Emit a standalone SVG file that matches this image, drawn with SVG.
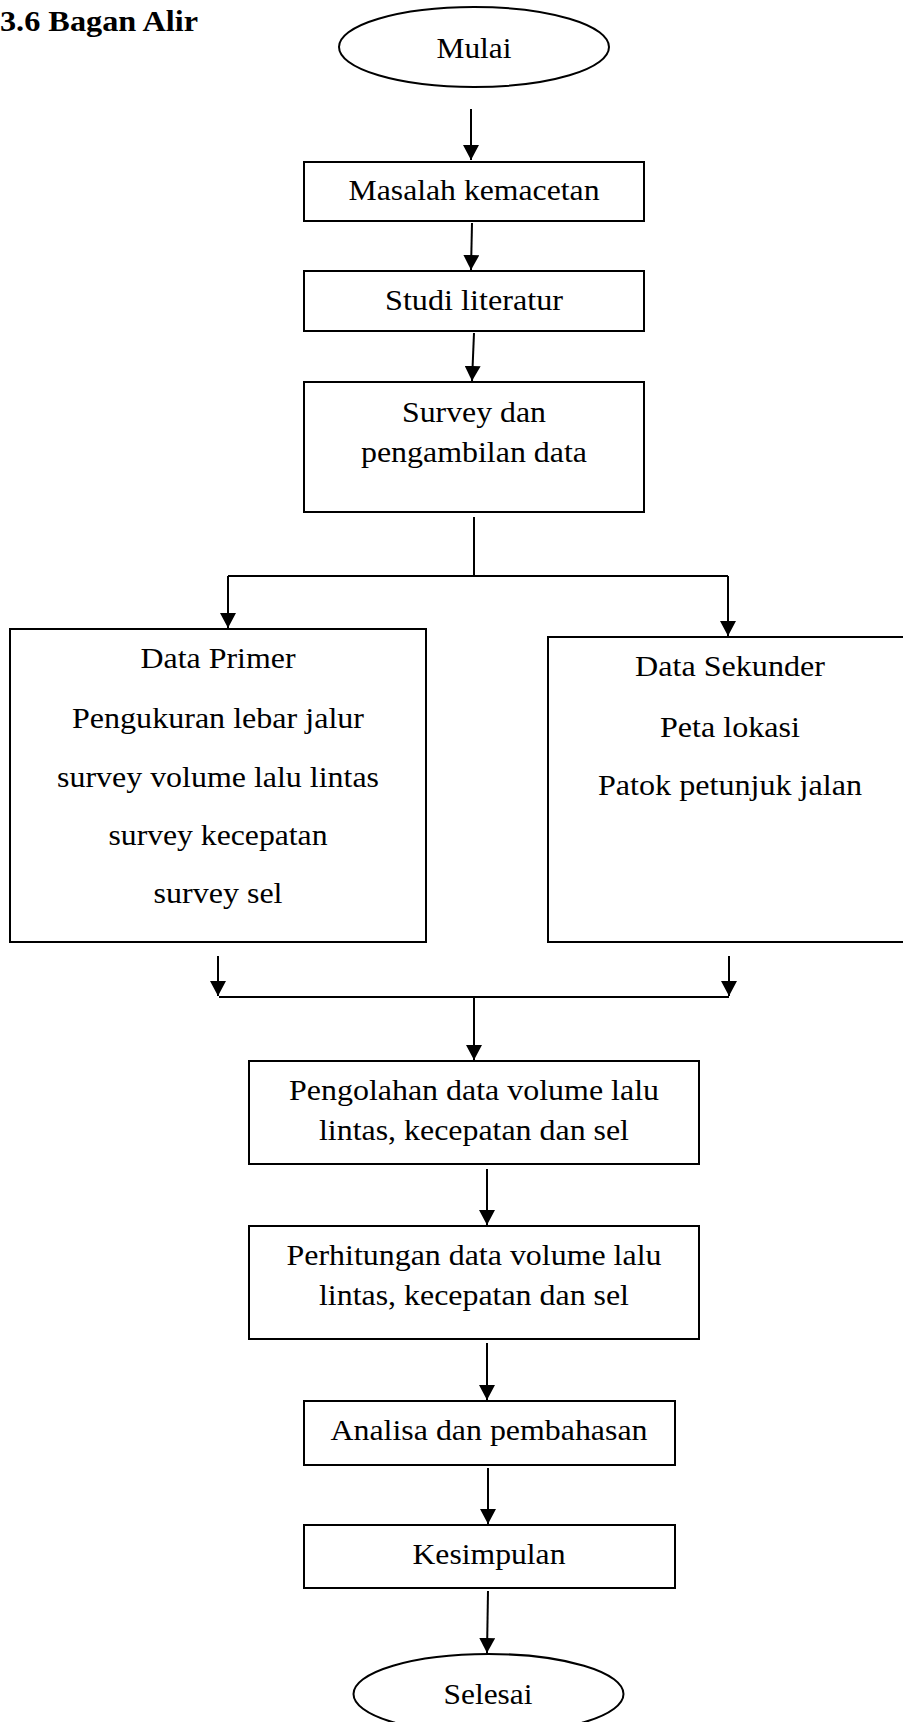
<svg xmlns="http://www.w3.org/2000/svg" width="903" height="1722" viewBox="0 0 903 1722">
<style>
.box{fill:#fff;stroke:#000;stroke-width:2}
.t{font-size:29px;fill:#000;text-anchor:middle}
.title{font-size:29px;font-weight:bold;fill:#000}
.ln{stroke:#000;stroke-width:2;fill:none}
.ar{stroke:#000;stroke-width:2;fill:none;marker-end:url(#ah)}
</style>
<defs>
<marker id="ah" markerUnits="userSpaceOnUse" markerWidth="16" markerHeight="16" viewBox="0 0 16 16" refX="15" refY="8" orient="auto">
<path d="M0,0 L15,8 L0,16 Z" fill="#000"/>
</marker>
</defs>
<rect width="903" height="1722" fill="#fff"/>
<g font-family="Liberation Serif, serif">
<text class="title" x="0" y="31" textLength="198" lengthAdjust="spacingAndGlyphs">3.6 Bagan Alir</text>

<g id="connectors">
<path class="ar" d="M471,109 L471,160"/>
<path class="ar" d="M472,223 L471,270"/>
<path class="ar" d="M474,333 L472,381"/>
<path class="ln" d="M474,517 L474,576"/>
<path class="ln" d="M228,576 L728,576"/>
<path class="ar" d="M228,576 L228,628"/>
<path class="ar" d="M728,576 L728,636"/>
<path class="ar" d="M218,956 L218,996"/>
<path class="ar" d="M729,956 L729,996"/>
<path class="ln" d="M219,997 L729,997"/>
<path class="ar" d="M474,997 L474,1060"/>
<path class="ar" d="M487,1169 L487,1225"/>
<path class="ar" d="M487,1343 L487,1400"/>
<path class="ar" d="M488,1468 L488,1524"/>
<path class="ar" d="M488,1591 L487,1653"/>
</g>

<g id="mulai">
<ellipse class="box" cx="474" cy="47" rx="135" ry="40"/>
<text class="t" x="474" y="58" textLength="75" lengthAdjust="spacingAndGlyphs">Mulai</text>
</g>
<g id="masalah">
<rect class="box" x="304" y="162" width="340" height="59"/>
<text class="t" x="474" y="200" textLength="251" lengthAdjust="spacingAndGlyphs">Masalah kemacetan</text>
</g>
<g id="studi">
<rect class="box" x="304" y="271" width="340" height="60"/>
<text class="t" x="474" y="310" textLength="178" lengthAdjust="spacingAndGlyphs">Studi literatur</text>
</g>
<g id="survey">
<rect class="box" x="304" y="382" width="340" height="130"/>
<text class="t" x="474" y="422" textLength="144" lengthAdjust="spacingAndGlyphs">Survey dan</text>
<text class="t" x="474" y="462" textLength="226" lengthAdjust="spacingAndGlyphs">pengambilan data</text>
</g>
<g id="primer">
<rect class="box" x="10" y="629" width="416" height="313"/>
<text class="t" x="218" y="668" textLength="155" lengthAdjust="spacingAndGlyphs">Data Primer</text>
<text class="t" x="218" y="728" textLength="292" lengthAdjust="spacingAndGlyphs">Pengukuran lebar jalur</text>
<text class="t" x="218" y="787" textLength="322" lengthAdjust="spacingAndGlyphs">survey volume lalu lintas</text>
<text class="t" x="218" y="845" textLength="219" lengthAdjust="spacingAndGlyphs">survey kecepatan</text>
<text class="t" x="218" y="903" textLength="129" lengthAdjust="spacingAndGlyphs">survey sel</text>
</g>
<g id="sekunder">
<rect class="box" x="548" y="637" width="370" height="305"/>
<text class="t" x="730" y="676" textLength="190" lengthAdjust="spacingAndGlyphs">Data Sekunder</text>
<text class="t" x="730" y="737" textLength="140" lengthAdjust="spacingAndGlyphs">Peta lokasi</text>
<text class="t" x="730" y="795" textLength="264" lengthAdjust="spacingAndGlyphs">Patok petunjuk jalan</text>
</g>
<g id="pengolahan">
<rect class="box" x="249" y="1061" width="450" height="103"/>
<text class="t" x="474" y="1100" textLength="370" lengthAdjust="spacingAndGlyphs">Pengolahan data volume lalu</text>
<text class="t" x="474" y="1140" textLength="310" lengthAdjust="spacingAndGlyphs">lintas, kecepatan dan sel</text>
</g>
<g id="perhitungan">
<rect class="box" x="249" y="1226" width="450" height="113"/>
<text class="t" x="474" y="1265" textLength="375" lengthAdjust="spacingAndGlyphs">Perhitungan data volume lalu</text>
<text class="t" x="474" y="1305" textLength="310" lengthAdjust="spacingAndGlyphs">lintas, kecepatan dan sel</text>
</g>
<g id="analisa">
<rect class="box" x="304" y="1401" width="371" height="64"/>
<text class="t" x="489" y="1440" textLength="317" lengthAdjust="spacingAndGlyphs">Analisa dan pembahasan</text>
</g>
<g id="kesimpulan">
<rect class="box" x="304" y="1525" width="371" height="63"/>
<text class="t" x="489" y="1564" textLength="153" lengthAdjust="spacingAndGlyphs">Kesimpulan</text>
</g>
<g id="selesai">
<ellipse class="box" cx="488.5" cy="1694" rx="135" ry="40"/>
<text class="t" x="488" y="1704" textLength="89" lengthAdjust="spacingAndGlyphs">Selesai</text>
</g>
</g>
</svg>
